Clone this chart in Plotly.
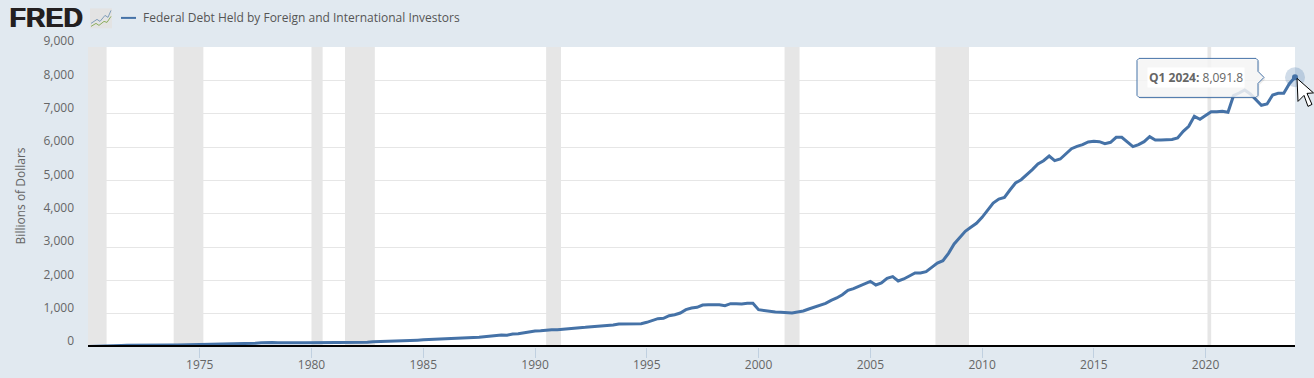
import pandas as pd
import plotly.graph_objects as go

TITLE = "Federal Debt Held by Foreign and International Investors"
Y_TITLE = "Billions of Dollars"
TIP_TEXT = "<b>Q1 2024:</b> 8,091.8"

quarters = pd.date_range("1970-01-01", "2024-01-01", freq="QS")

debt_1970s = [12,14,18,24, 30,38,46,50, 54,58,60,60, 62,62,60,60, 60,62,64,66,
              70,72,74,76, 78,80,84,86, 92,100,112,124, 136,134,130,134, 142,140,130,126]
debt_1980s = [126,128,132,134, 136,138,140,138, 140,142,146,156, 160,164,168,172, 178,184,196,206,
              216,226,232,234, 248,258,266,272, 278,286,292,306, 336,352,358,356, 390,400,430,460]
debt_1990s = [480,490,510,520, 520,540,550,560, 580,590,600,610, 620,630,660,690, 690,700,710,700,
              740,800,850,860, 940,970,1020,1120, 1170,1190,1260,1270, 1270,1270,1240,1300, 1300,1290,1310,1310]
debt_2000s = [1120,1090,1060,1050, 1040,1020,1020,1050, 1080,1140,1200,1250, 1310,1400,1470,1570,
              1700,1750,1820,1880, 1970,1860,1920,2060, 2110,1980,2040,2130, 2220,2220,2260,2390,
              2520,2590,2810,3090, 3290,3470,3590,3710]
debt_2010s = [3890,4110,4320,4440, 4490,4710,4920,5020, 5160,5320,5490,5590, 5730,5590,5640,5790,
              5950,6020,6070,6150, 6170,6160,6100,6140, 6290,6290,6160,6010, 6070,6160,6310,6210,
              6210,6220,6225,6270, 6470,6620,6920,6830]
debt_2020s = [6950,7060,7060,7070, 7040,7540,7620,7710, 7590,7420,7250,7290, 7560,7610,7610,7900, 8091.8]
debt = debt_1970s + debt_1980s + debt_1990s + debt_2000s + debt_2010s + debt_2020s

recession_starts = ["1970-01-01","1973-11-01","1980-01-01","1981-07-01","1990-07-01","2001-03-01","2007-12-01","2020-02-01"]
recession_ends   = ["1970-11-01","1975-03-01","1980-07-01","1982-11-01","1991-03-01","2001-11-01","2009-06-01","2020-04-01"]

x_tick_years = [1975,1980,1985,1990,1995,2000,2005,2010,2015,2020]
y_ticks = [0,1000,2000,3000,4000,5000,6000,7000,8000,9000]

W, H = 1314, 378
L, R, T, B = 88, 19, 46.6, 31.4
BLUE = "#4572A7"
BG = "#E1E9F0"
TXT = "#666666"
FONT = "Open Sans"

def px(x): return (x - L) / (W - L - R)
def py(y): return (H - B - y) / (H - T - B)
def path(points, close=True):
    s = "M " + " L ".join(f"{px(a):.5f},{py(b):.5f}" for a, b in points)
    return s + (" Z" if close else "")

fig = go.Figure()
fig.add_trace(go.Scatter(x=quarters, y=debt, mode="lines", name=TITLE,
                         line=dict(color=BLUE, width=3), hoverinfo="skip", cliponaxis=False))
fig.add_trace(go.Scatter(x=quarters[-1:], y=debt[-1:], mode="markers", showlegend=False, hoverinfo="skip",
                         marker=dict(size=20, color="rgba(69,114,167,0.25)", line=dict(width=0)), cliponaxis=False))
fig.add_trace(go.Scatter(x=quarters[-1:], y=debt[-1:], mode="markers", showlegend=False, hoverinfo="skip",
                         marker=dict(size=6, color=BLUE, line=dict(width=0)), cliponaxis=False))

shapes = []
for a, b in zip(recession_starts, recession_ends):
    shapes.append(dict(type="rect", layer="between", xref="x", yref="y", x0=a, x1=b, y0=0, y1=9000,
                       fillcolor="#E6E6E6", line=dict(width=0)))
# baseline
shapes.append(dict(type="line", layer="above", xref="paper", yref="y", x0=0, x1=1, y0=25, y1=25,
                   line=dict(color="black", width=2.5)))
# legend swatch
shapes.append(dict(type="line", xref="paper", yref="paper", x0=px(121), x1=px(136), y0=py(17.5), y1=py(17.5),
                   line=dict(color=BLUE, width=2)))
# logo icon
shapes.append(dict(type="path", xref="paper", yref="paper", fillcolor="#E3E3E3", line=dict(width=0),
                   path=path([(90,8),(112,8),(112,28),(90,28)])))
shapes.append(dict(type="path", xref="paper", yref="paper", line=dict(color="#7F9DB9", width=1),
                   path=path([(91,23),(97,19),(100,21),(105,15),(108,17),(111,10)], close=False)))
shapes.append(dict(type="path", xref="paper", yref="paper", line=dict(color="#8DAE5D", width=1),
                   path=path([(91,26),(96,23),(99,25),(104,21),(107,22),(111,16)], close=False)))
# tooltip shadow and body
tip = [(1139,58),(1256,58),(1258,60),(1258,71),(1264,77),(1258,83),(1258,95),(1256,97),(1139,97),(1137,95),(1137,60)]
shapes.append(dict(type="path", layer="above", xref="paper", yref="paper", fillcolor="rgba(0,0,0,0.07)", line=dict(width=0),
                   path=path([(a+1.5,b+1.5) for a,b in tip])))
shapes.append(dict(type="path", layer="above", xref="paper", yref="paper", fillcolor="rgba(247,247,247,0.85)",
                   line=dict(color=BLUE, width=1), path=path(tip)))
# cursor
shapes.append(dict(type="path", layer="above", xref="paper", yref="paper", fillcolor="white",
                   line=dict(color="black", width=1),
                   path=path([(1297,78),(1298,101),(1304,95),(1308,106),(1312,104),(1307,93),(1313.5,92.5)])))

annotations = [
    dict(text="<b>FRED</b>", xref="paper", yref="paper", x=px(7), y=py(17.5), xanchor="left", yanchor="middle",
         showarrow=False, font=dict(family="Liberation Sans", size=27, color="#231F20", shadow="1px 0 0 #231F20")),
    dict(text=TITLE, xref="paper", yref="paper", x=px(141), y=py(17.5), xanchor="left", yanchor="middle",
         showarrow=False, font=dict(family=FONT, size=12, color="#555555")),
    dict(text=TIP_TEXT, xref="paper", yref="paper", x=px(1196), y=py(77.5), xanchor="center", yanchor="middle",
         showarrow=False, bgcolor="white", font=dict(family=FONT, size=12, color=TXT)),
    dict(text=Y_TITLE, xref="paper", yref="paper", x=px(20), y=py(196), xanchor="center", yanchor="middle",
         textangle=-90, showarrow=False, font=dict(family=FONT, size=12, color=TXT)),
]

fig.update_layout(
    width=W, height=H, autosize=False, showlegend=False,
    margin=dict(l=L, r=R, t=T, b=B, pad=0),
    paper_bgcolor=BG, plot_bgcolor="white",
    font=dict(family=FONT, size=12, color=TXT),
    shapes=shapes, annotations=annotations,
    xaxis=dict(type="date", range=["1970-01-01", "2024-01-01"], automargin=False,
               tickvals=[f"{y}-01-01" for y in x_tick_years], ticktext=[str(y) for y in x_tick_years],
               showgrid=False, zeroline=False, showline=False,
               ticks="outside", ticklen=10, tickwidth=1, tickcolor="#C0D0E0", ticklabelstandoff=-3,
               tickfont=dict(family=FONT, size=12, color=TXT)),
    yaxis=dict(range=[0, 9000], tickvals=y_ticks, tickformat=",d", automargin=False,
               gridcolor="#E6E6E6", gridwidth=1, zeroline=False, showline=False,
               ticks="", ticklabelstandoff=13, ticklabelshift=-6,
               tickfont=dict(family=FONT, size=12, color=TXT)),
)

fig.write_html("out.html", config=dict(displayModeBar=False),
               post_script="document.body.style.margin='0';")
